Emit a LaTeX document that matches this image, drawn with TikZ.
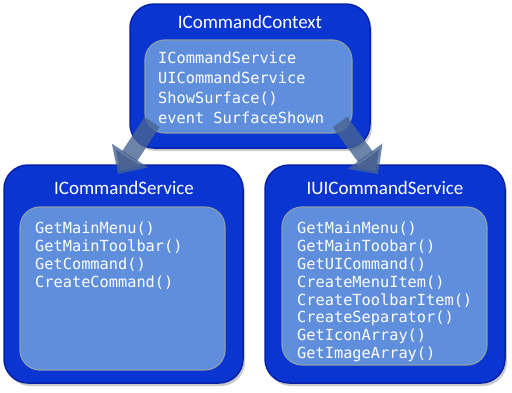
\documentclass[tikz,border=0pt]{standalone}
\usepackage{fontspec}
\setmainfont{Carlito}
\setmonofont{DejaVu Sans Mono}
\usetikzlibrary{shadows,arrows.meta}
\definecolor{outerblue}{HTML}{0A35D0}
\definecolor{outerline}{HTML}{0622A8}
\definecolor{innerblue}{HTML}{5E8EDC}
\definecolor{innerline}{HTML}{8C9EAA}
\definecolor{arrowcol}{HTML}{5B7DB6}
\tikzset{
  outerbox/.style={draw=outerline, line width=1.5pt, fill=outerblue, rounded corners=24pt,
    drop shadow={shadow xshift=2pt, shadow yshift=-3pt, opacity=0.35, fill=black!60}},
  innerbox/.style={draw=innerline, line width=1.2pt, fill=innerblue, rounded corners=20pt},
  titletext/.style={text=white, font=\fontsize{19}{22}\selectfont},
  listtext/.style={text=white, align=left, inner sep=0pt, anchor=north west},
  blockarrow/.style={draw=arrowcol!80!black, line width=18pt, draw opacity=0.8,
    -{Triangle[width=42pt,length=22pt]}}
}
\begin{document}
\begin{tikzpicture}[x=1pt,y=-1pt]
\useasboundingbox (0,0) rectangle (512,392);
% top
\node[outerbox, minimum width=240pt, minimum height=144pt] (ctx) at (250,76) {};
\node[innerbox, minimum width=207pt, minimum height=93pt] (ctxin) at (248.5,86.5) {};
\node[titletext] (ctxt) at (250,22) {ICommandContext};
\node[listtext, font=\ttfamily\fontsize{15.3}{20}\selectfont] (ctxl) at (158,52)
  {ICommandService\\UICommandService\\ShowSurface()\\event SurfaceShown};
% left
\node[outerbox, minimum width=239pt, minimum height=218pt] (cs) at (123.5,274) {};
\node[innerbox, minimum width=205pt, minimum height=163pt] (csin) at (122.5,288.5) {};
\node[titletext] (cst) at (124,188) {ICommandService};
\node[listtext, font=\ttfamily\fontsize{15.3}{17.8}\selectfont] (csl) at (35,222)
  {GetMainMenu()\\GetMainToolbar()\\GetCommand()\\CreateCommand()};
% right
\node[outerbox, minimum width=240pt, minimum height=218pt] (ucs) at (385,274) {};
\node[innerbox, minimum width=205pt, minimum height=158pt] (ucsin) at (384.5,286) {};
\node[titletext] (ucst) at (385,188) {IUICommandService};
\node[listtext, font=\ttfamily\fontsize{15.3}{17.8}\selectfont] (ucsl) at (297,222)
  {GetMainMenu()\\GetMainToobar()\\GetUICommand()\\CreateMenuItem()\\CreateToolbarItem()\\CreateSeparator()\\GetIconArray()\\GetImageArray()};
% arrows
\coordinate (a1s) at (152,122);
\coordinate (a1e) at (118,174);
\coordinate (a2s) at (340,122);
\coordinate (a2e) at (378,174);
\draw[blockarrow] (a1s) -- (a1e);
\draw[blockarrow] (a2s) -- (a2e);
\end{tikzpicture}
\end{document}
